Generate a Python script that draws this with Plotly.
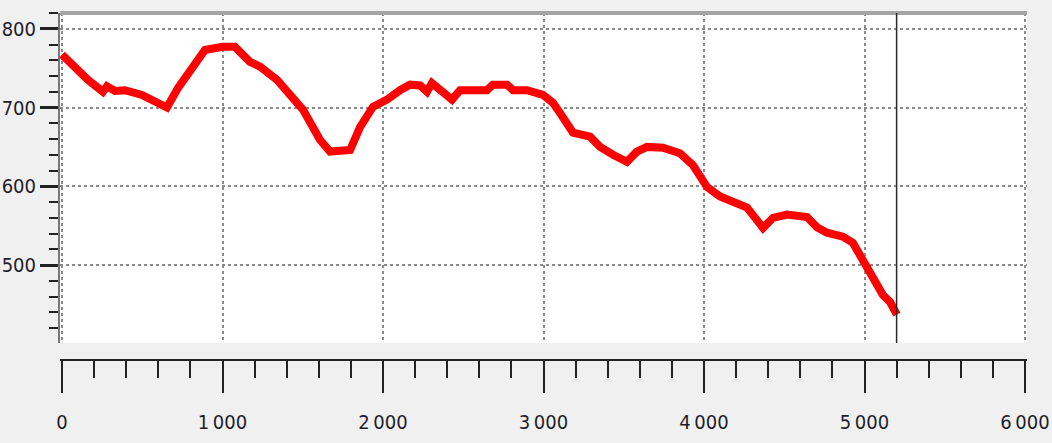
import plotly.graph_objects as go

# Distance (x) and elevation (y)
dist = [0, 62, 162, 255, 280, 330, 392, 498, 580, 654, 723, 810, 891, 1000, 1077,
        1171, 1234, 1340, 1439, 1502, 1607, 1670, 1795, 1857, 1938, 2025, 2106,
        2168, 2231, 2274, 2305, 2355, 2430, 2480, 2648, 2685, 2773, 2810, 2897,
        2997, 3059, 3103, 3184, 3290, 3352, 3433, 3520, 3582, 3645, 3745, 3850,
        3931, 4019, 4100, 4181, 4268, 4330, 4368, 4430, 4517, 4642, 4704, 4766,
        4866, 4928, 4991, 5053, 5115, 5159, 5202]
elev = [767, 754, 735, 720, 727, 721, 722, 716, 707, 700, 725, 752, 773, 777, 777,
        758, 752, 735, 714, 697, 659, 644, 646, 675, 701, 710, 722,
        729, 728, 720, 731, 722, 710, 722, 722, 729, 729, 722, 722,
        716, 706, 693, 668, 663, 650, 640, 631, 644, 650, 649, 642,
        627, 599, 587, 579, 573, 557, 547, 560, 564, 561, 548, 541,
        536, 528, 506, 481, 462, 453, 437]

x_tick_vals = [0, 1000, 2000, 3000, 4000, 5000, 6000]
x_tick_labels = ["0", "1\u2009000", "2\u2009000", "3\u2009000", "4\u2009000", "5\u2009000", "6\u2009000"]
y_tick_vals = [500, 600, 700, 800]
y_tick_labels = ["500", "600", "700", "800"]
cursor_x = 5200

x_range = [-12.5, 6012.5]
y_range = [401, 820]

tick_font = dict(family="DejaVu Sans Condensed, Liberation Sans Narrow, sans-serif",
                 size=20, color="#1e1e2a")
grid_color = "#8a8a8a"

fig = go.Figure()
fig.add_trace(go.Scatter(x=dist, y=elev, mode="lines",
                         line=dict(color="#ff0000", width=8),
                         showlegend=False, hoverinfo="skip"))

fig.update_layout(
    width=1052, height=443,
    margin=dict(l=60, r=25, t=13, b=83, pad=0),
    paper_bgcolor="#f0f0f0", plot_bgcolor="#f0f0f0",
    showlegend=False,
    xaxis=dict(domain=[0, 1], range=x_range, anchor="free", position=0,
               automargin=False,
               showgrid=True, gridcolor=grid_color, griddash="dot", gridwidth=1.5,
               tickvals=x_tick_vals, ticktext=x_tick_labels,
               ticks="outside", ticklen=32, tickwidth=2, tickcolor="#222",
               showline=True, linecolor="#222", linewidth=2,
               zeroline=False, ticklabelstandoff=12,
               tickfont=tick_font,
               minor=dict(dtick=200, tick0=0, ticks="outside", ticklen=17,
                          tickwidth=2, tickcolor="#222", showgrid=False)),
    yaxis=dict(domain=[0.049, 1], range=y_range, anchor="x", side="left",
               automargin=False,
               tickvals=y_tick_vals, ticktext=y_tick_labels,
               ticks="outside", ticklen=18, tickwidth=3, tickcolor="#222",
               showline=True, linecolor="#777", linewidth=2,
               showgrid=True, gridcolor=grid_color, griddash="dot", gridwidth=1.5,
               zeroline=False,
               tickfont=tick_font,
               minor=dict(dtick=20, tick0=0, ticks="outside", ticklen=9,
                          tickwidth=2, tickcolor="#222", showgrid=False)),
)

# white plotting area (only the upper part, above the detached x-axis)
fig.add_shape(type="rect", xref="x domain", yref="y domain", x0=0, x1=1, y0=0, y1=1,
              fillcolor="white", line=dict(width=0), layer="below")
# grey top border
fig.add_shape(type="line", xref="x domain", yref="y domain", x0=0, x1=1, y0=1, y1=1,
              line=dict(color="#a4a4a4", width=4))
# cursor line
fig.add_shape(type="line", xref="x", yref="y domain", x0=cursor_x, x1=cursor_x, y0=0, y1=1,
              line=dict(color="#2a2a2a", width=1.5))

fig.write_html("out.html",
               config={"displayModeBar": False},
               post_script="document.body.style.margin='0';"
                           "document.body.style.background='#f0f0f0';")
